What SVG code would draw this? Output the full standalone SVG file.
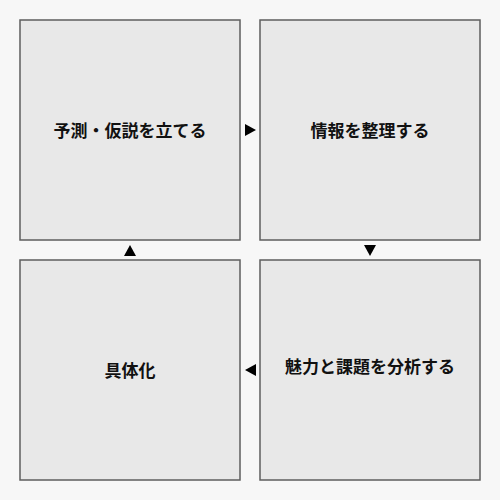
<svg xmlns="http://www.w3.org/2000/svg" width="500" height="500" viewBox="0 0 500 500">
<style>
.box{fill:#e8e8e8;stroke:#5e5e5e;stroke-width:1.5}
.lbl{font-family:"Noto Sans CJK JP","Noto Sans",sans-serif;font-weight:bold;font-size:17px;fill:#111;text-anchor:middle;dominant-baseline:central}
.tri{fill:#000}
</style>
<rect width="500" height="500" fill="#f7f7f7"/>
<g id="node1"><rect class="box" x="20" y="20" width="220" height="220"/><text class="lbl" x="130" y="129">予測・仮説を立てる</text></g>
<g id="node2"><rect class="box" x="260" y="20" width="220" height="220"/><text class="lbl" x="370" y="129">情報を整理する</text></g>
<g id="node3"><rect class="box" x="260" y="260" width="220" height="220"/><text class="lbl" x="370" y="365">魅力と課題を分析する</text></g>
<g id="node4"><rect class="box" x="20" y="260" width="220" height="220"/><text class="lbl" x="130" y="369">具体化</text></g>
<g id="connectors">
<polygon class="tri" points="245,124 256,130 245,136"/>
<polygon class="tri" points="364,245 376,245 370,256"/>
<polygon class="tri" points="256,364 256,376 245,370"/>
<polygon class="tri" points="124,256 136,256 130,245"/>
</g>
</svg>
